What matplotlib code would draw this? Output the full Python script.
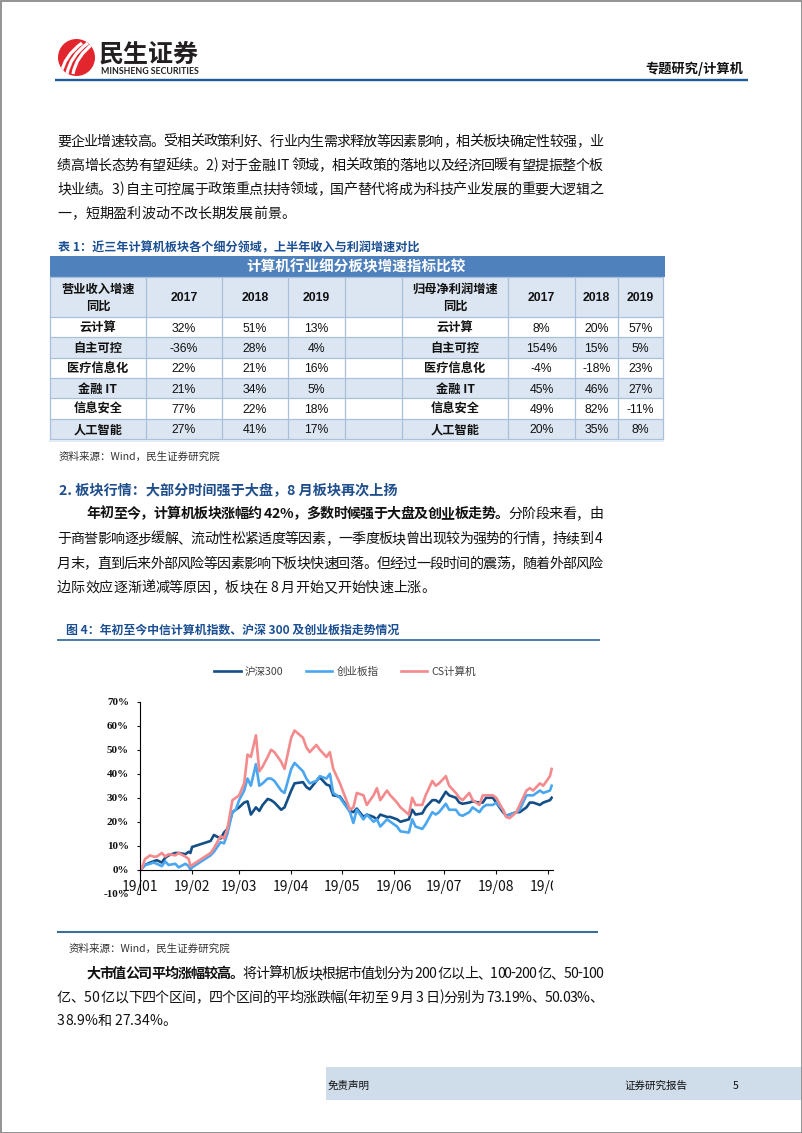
import matplotlib
matplotlib.use('Agg')
import matplotlib.pyplot as plt
from matplotlib.font_manager import FontProperties
from matplotlib.patches import Rectangle, Circle, PathPatch
from matplotlib.path import Path
from matplotlib.transforms import IdentityTransform
import pandas as pd

W, H = 802, 1133
CJK = ['Noto Sans CJK SC', 'DejaVu Sans']
plt.rcParams['font.family'] = CJK

# ---------------- data ----------------
table_title = '计算机行业细分板块增速指标比较'
years = ['2017', '2018', '2019']
segments = ['云计算', '自主可控', '医疗信息化', '金融 IT', '信息安全', '人工智能']
rev_growth = [[32, 51, 13], [-36, 28, 4], [22, 21, 16], [21, 34, 5], [77, 22, 18], [27, 41, 17]]
profit_growth = [[8, 20, 57], [154, 15, 5], [-4, -18, 23], [45, 46, 27], [49, 82, -11], [20, 35, 8]]

dates = ['2019-01-02', '2019-01-04', '2019-01-07', '2019-01-09', '2019-01-11', '2019-01-14', '2019-01-16',
         '2019-01-18', '2019-01-22', '2019-01-24', '2019-01-28', '2019-01-30', '2019-01-31',
         '2019-02-01', '2019-02-12', '2019-02-14', '2019-02-18', '2019-02-20', '2019-02-22', '2019-02-25', '2019-02-27',
         '2019-03-01', '2019-03-04', '2019-03-06', '2019-03-08', '2019-03-11', '2019-03-13', '2019-03-15',
         '2019-03-18', '2019-03-20', '2019-03-22', '2019-03-26', '2019-03-28',
         '2019-04-01', '2019-04-03', '2019-04-08', '2019-04-10', '2019-04-12', '2019-04-16', '2019-04-18',
         '2019-04-22', '2019-04-24', '2019-04-26', '2019-04-30',
         '2019-05-06', '2019-05-08', '2019-05-10', '2019-05-14', '2019-05-16', '2019-05-20', '2019-05-22',
         '2019-05-24', '2019-05-28', '2019-05-30',
         '2019-06-03', '2019-06-05', '2019-06-10', '2019-06-12', '2019-06-14', '2019-06-18', '2019-06-20',
         '2019-06-24', '2019-06-26', '2019-06-28',
         '2019-07-02', '2019-07-04', '2019-07-08', '2019-07-10', '2019-07-12', '2019-07-16', '2019-07-18',
         '2019-07-22', '2019-07-24', '2019-07-26', '2019-07-30',
         '2019-08-01', '2019-08-05', '2019-08-07', '2019-08-09', '2019-08-13', '2019-08-15', '2019-08-19',
         '2019-08-21', '2019-08-23', '2019-08-27', '2019-08-29',
         '2019-09-02', '2019-09-03']
hs300 = [0.5, 2, 3, 3.5, 4, 3, 5, 6, 7, 7, 6.5, 7.5, 7,
         9.5, 12, 14.5, 13, 15.5, 17, 24, 25,
         26, 28, 28.5, 23, 26, 24.5, 27, 29.5, 29, 28, 25, 26,
         33, 36, 36.5, 34.5, 33.5, 37, 38.5, 35.5, 35, 31, 30.5,
         24.5, 24, 25.5, 22, 23, 22, 21, 23, 22, 22,
         21, 20, 21, 25, 23, 23.5, 26, 29, 29, 28,
         32.5, 31, 30, 28, 27.5, 28, 28.5, 28, 28, 30, 30,
         28, 24, 22.5, 23, 24, 24, 26, 28, 28, 27, 28,
         29, 30]
chinext = [0.5, 2, 2.5, 3, 2.5, 1.5, 3.5, 2, 2.5, 1, 2.5, 1.5, 0,
           1, 6, 7.5, 11.5, 11, 15, 24, 25,
           29, 33, 38, 35, 44, 35, 36, 38, 38, 37, 33, 32,
           42, 44.5, 41, 38, 36, 37, 39, 38, 40, 32, 30,
           24, 19.5, 25, 21, 23, 20, 21, 18, 21, 20,
           18, 16, 15.5, 21, 18, 17, 19, 24, 23, 24,
           27.5, 25, 25, 23, 22.5, 24, 26, 24, 26, 27, 27,
           28, 25, 22, 23, 24, 25, 31, 31, 31, 33, 32,
           33, 35]
cs_computer = [0.5, 4.5, 6, 5.5, 5.5, 7, 5.5, 6.5, 6, 7, 5.5, 4.5, 1.5,
               2, 7, 9, 14, 13, 17, 29, 30,
               31, 36, 48, 47, 56, 41, 43, 47, 50, 49, 45, 42,
               55, 58, 55, 51, 49, 52, 50, 47, 49, 42, 36,
               25, 26, 32, 31, 27, 31, 34, 29, 33, 31,
               28, 26, 23, 30, 27, 27, 31, 37, 35, 36,
               39, 35, 32, 30, 29, 32, 29, 27, 31, 31, 31,
               30, 25, 22, 21.5, 24, 27, 33, 34, 33, 36, 35,
               39, 42]
series_names = ['沪深300', '创业板指', 'CS计算机']
series_colors = ['#134E87', '#4BA6F0', '#F48A8C']
ytick_vals = [-10, 0, 10, 20, 30, 40, 50, 60, 70]
ytick_labels = ['-10%', '0%', '10%', '20%', '30%', '40%', '50%', '60%', '70%']
xtick_dates = ['2019-01-01', '2019-02-01', '2019-03-01', '2019-04-01', '2019-05-01',
               '2019-06-01', '2019-07-01', '2019-08-01', '2019-09-01']
xtick_labels = ['19/01', '19/02', '19/03', '19/04', '19/05', '19/06', '19/07', '19/08', '19/09']

# ---------------- page ----------------
fig = plt.figure(figsize=(W / 100, H / 100), dpi=100)
fig.patch.set_facecolor('white')
page = fig.add_axes([0, 0, 1, 1])
page.set_xlim(0, W)
page.set_ylim(H, 0)
page.axis('off')
renderer = fig.canvas.get_renderer()


def fp(size, weight='normal', family=None):
    return FontProperties(family=family or CJK, size=size, weight=weight)


def ctext(x, yc, s, size, weight='normal', color='#111111', ha='left', family=None, k=0.36):
    em = size * 100 / 72
    page.text(x, yc + k * em, s, fontproperties=fp(size, weight, family), color=color,
              ha=ha, va='baseline')


def text_width(s, prop):
    t = page.text(0, 0, s, fontproperties=prop)
    w = t.get_window_extent(renderer).width
    t.remove()
    return w


_adv = {}


def advance(ch, prop):
    key = (ch, str(prop.get_weight()), prop.get_size())
    if key not in _adv:
        _adv[key] = text_width('|' + ch + '|', prop) - text_width('||', prop)
    return _adv[key]


def para_line(segs, x0, yc, x1=None, size=10.1, color='#111111'):
    em = size * 100 / 72
    items = []
    for s, wt in segs:
        p = fp(size, wt)
        for c in s:
            items.append((c, p))
    widths = [advance(c, p) for c, p in items]
    gap = 0 if x1 is None else (x1 - x0 - sum(widths)) / (len(items) - 1)
    x = x0
    base = yc + 0.36 * em
    for (c, p), w in zip(items, widths):
        if c != ' ':
            page.text(x, base, c, fontproperties=p, ha='left', va='baseline', color=color)
        x += w + gap


# border
page.add_patch(Rectangle((0.5, 0.5), W - 1, H - 1, fill=False, ec='#808080', lw=1.2))

# logo
circ = Circle((76.5, 57.5), 18.5, fc='#E3262D', ec='none')
page.add_patch(circ)
for k in range(3):
    verts = [(61 + 6 * k, 74), (64 + 6 * k, 56), (82 + 6 * k, 43)]
    pp = PathPatch(Path(verts, [Path.MOVETO, Path.CURVE3, Path.CURVE3]), fc='none', ec='white', lw=2.3)
    page.add_patch(pp)
    pp.set_clip_path(circ)
ctext(99, 52.5, '民生证券', 18, 'bold', '#231F20')
logo_en = 'MINSHENG SECURITIES'
en_prop = FontProperties(family=['Lato', 'DejaVu Sans'], size=10, weight='bold')
en_size = 10 * 98 / text_width(logo_en, en_prop)
page.text(101, 74, logo_en, fontproperties=FontProperties(family=['Lato', 'DejaVu Sans'], size=en_size,
                                                          weight='bold'),
          color='#231F20', ha='left', va='baseline')
ctext(743, 68, '专题研究/计算机', 9.5, 'bold', '#111111', ha='right')
page.plot([55, 748], [80, 80], color='#1F5B98', lw=1.7, solid_capstyle='butt')

# paragraph 1
para_line([('要企业增速较高。受相关政策利好、行业内生需求释放等因素影响，相关板块确定性较强，业', 'normal')], 57, 140.5, 603)
para_line([('绩高增长态势有望延续。2) 对于金融 IT 领域，相关政策的落地以及经济回暖有望提振整个板', 'normal')], 57, 164.5, 603)
para_line([('块业绩。3) 自主可控属于政策重点扶持领域，国产替代将成为科技产业发展的重要大逻辑之', 'normal')], 57, 188.5, 603)
para_line([('一，短期盈利波动不改长期发展前景。', 'normal')], 57, 212.5)

# table caption
ctext(58, 247, '表 1：近三年计算机板块各个细分领域，上半年收入与利润增速对比', 8.7, 'bold', '#1B4F93')

# table
cols = [50, 146, 222, 288, 345, 402, 508, 575, 618, 663]
t_top, t_head, t_rows = 256, 277, 317
rh = (439 - 317) / 6
grid_c = '#A9C0DA'
shade = '#DCE6F2'
page.add_patch(Rectangle((50, t_top), 615, t_head - t_top, fc='#4F81BD', ec='none'))
ctext(356.5, 266.5, table_title, 10.5, 'bold', 'white', ha='center')
page.add_patch(Rectangle((50, t_head), 613, t_rows - t_head, fc=shade, ec='none'))
for i in range(6):
    if i % 2 == 1:
        page.add_patch(Rectangle((50, t_rows + i * rh), 613, rh, fc=shade, ec='none'))
for x in cols:
    page.plot([x, x], [t_head, 439], color=grid_c, lw=0.9)
for y in [t_head, t_rows] + [t_rows + i * rh for i in range(1, 7)]:
    page.plot([50, 663], [y, y], color=grid_c, lw=0.9)
page.plot([50, 663], [441, 441], color='#E3EBF5', lw=1.5)

lab_f = 8.8
ctext(98, 288.5, '营业收入增速', lab_f, 'bold', '#111111', ha='center')
ctext(98, 305, '同比', lab_f, 'bold', '#111111', ha='center')
ctext(455, 288.5, '归母净利润增速', lab_f, 'bold', '#111111', ha='center')
ctext(455, 305, '同比', lab_f, 'bold', '#111111', ha='center')
ARIAL = ['Liberation Sans', 'DejaVu Sans']
for j, yr in enumerate(years):
    ctext((cols[1 + j] + cols[2 + j]) / 2, 297, yr, 8.8, 'bold', '#111111', ha='center', family=ARIAL)
    ctext((cols[6 + j] + cols[7 + j]) / 2, 297, yr, 8.8, 'bold', '#111111', ha='center', family=ARIAL)
for i, name in enumerate(segments):
    yc = t_rows + (i + 0.5) * rh
    ctext(98, yc, name, lab_f, 'bold', '#111111', ha='center')
    ctext(455, yc, name, lab_f, 'bold', '#111111', ha='center')
    for j in range(3):
        ctext((cols[1 + j] + cols[2 + j]) / 2, yc, f'{rev_growth[i][j]}%', 8.8, 'normal', '#111111',
              ha='center', family=ARIAL)
        ctext((cols[6 + j] + cols[7 + j]) / 2, yc, f'{profit_growth[i][j]}%', 8.8, 'normal', '#111111',
              ha='center', family=ARIAL)

ctext(59, 456, '资料来源：Wind，民生证券研究院', 7.6, 'normal', '#333333')

# section 2
ctext(59, 489, '2. 板块行情：大部分时间强于大盘，8 月板块再次上扬', 10.2, 'bold', '#1F4E8C')
para_line([('年初至今，计算机板块涨幅约 42%，多数时候强于大盘及创业板走势。', 'bold'),
           ('分阶段来看，由', 'normal')], 86, 513, 603)
para_line([('于商誉影响逐步缓解、流动性松紧适度等因素，一季度板块曾出现较为强势的行情，持续到 4', 'normal')], 57, 538, 603)
para_line([('月末，直到后来外部风险等因素影响下板块快速回落。但经过一段时间的震荡，随着外部风险', 'normal')], 57, 562.5, 603)
para_line([('边际效应逐渐递减等原因，板块在 8 月开始又开始快速上涨。', 'normal')], 57, 587)

# figure caption
ctext(66, 630, '图 4：年初至今中信计算机指数、沪深 300 及创业板指走势情况', 8.6, 'bold', '#1B4F93')
page.plot([57, 600], [639.5, 639.5], color='#2A6499', lw=1.2, solid_capstyle='butt')
page.plot([57, 598], [932, 932], color='#3A6E9C', lw=1.5, solid_capstyle='butt')

# ---------------- chart ----------------
ax = fig.add_axes([140 / W, 1 - 893.8 / H, (553 - 140) / W, (893.8 - 701.7) / H])
ax.set_facecolor('none')
d = pd.to_datetime(dates)
handles = []
for vals, name, col in zip([hs300, chinext, cs_computer], series_names, series_colors):
    ln, = ax.plot(d, vals, color=col, lw=1.9, label=name, solid_joinstyle='round')
    handles.append(ln)
ax.set_ylim(-10, 70)
ax.set_xlim(pd.Timestamp('2019-01-01'), pd.Timestamp('2019-01-01') + pd.Timedelta(days=245.8))
serif_b = FontProperties(family=['Liberation Serif', 'DejaVu Serif'], weight='bold', size=8)
ax.set_yticks(ytick_vals)
ax.set_yticklabels(ytick_labels, fontproperties=serif_b)
ax.set_xticks(pd.to_datetime(xtick_dates))
ax.set_xticklabels(xtick_labels, fontproperties=serif_b)
for s in ['top', 'right']:
    ax.spines[s].set_visible(False)
ax.spines['bottom'].set_position(('data', 0))
ax.spines['left'].set_linewidth(0.8)
ax.spines['bottom'].set_linewidth(0.8)
ax.tick_params(axis='y', direction='out', length=2.5, width=0.8, pad=5.5, colors='#111111')
ax.tick_params(axis='x', direction='out', length=3, width=0.8, pad=4, colors='#111111')

leg = fig.legend(handles=handles, loc='center', bbox_to_anchor=(345 / W, 1 - 672 / H), ncol=3,
                 frameon=False, prop=fp(7.6), handlelength=2.5, handletextpad=0.4, columnspacing=2.1,
                 labelcolor='#404040')

# cropped edge of the chart picture
fig.add_artist(Rectangle((553, H - 897), 40, 22, transform=IdentityTransform(), fc='white', ec='none',
                         zorder=10))

# paragraph 3
ctext(69, 948, '资料来源：Wind，民生证券研究院', 7.6, 'normal', '#333333')
para_line([('大市值公司平均涨幅较高。', 'bold'),
           ('将计算机板块根据市值划分为 200 亿以上、100-200 亿、50-100', 'normal')], 86, 973, 603)
para_line([('亿、50 亿以下四个区间，四个区间的平均涨跌幅(年初至 9 月 3 日)分别为 73.19%、50.03%、', 'normal')],
          57, 996.5, 603)
para_line([('38.9%和 27.34%。', 'normal')], 57, 1020)

# footer
page.add_patch(Rectangle((326, 1067), W - 1.5 - 326, 33, fc='#CFDCEA', ec='none'))
ctext(328, 1085, '免责声明', 7.6, 'normal', '#111111')
ctext(624, 1085, '证券研究报告', 7.6, 'normal', '#111111')
ctext(733, 1085, '5', 7.6, 'normal', '#111111')

fig.savefig('out.png', dpi=100, facecolor='white')
